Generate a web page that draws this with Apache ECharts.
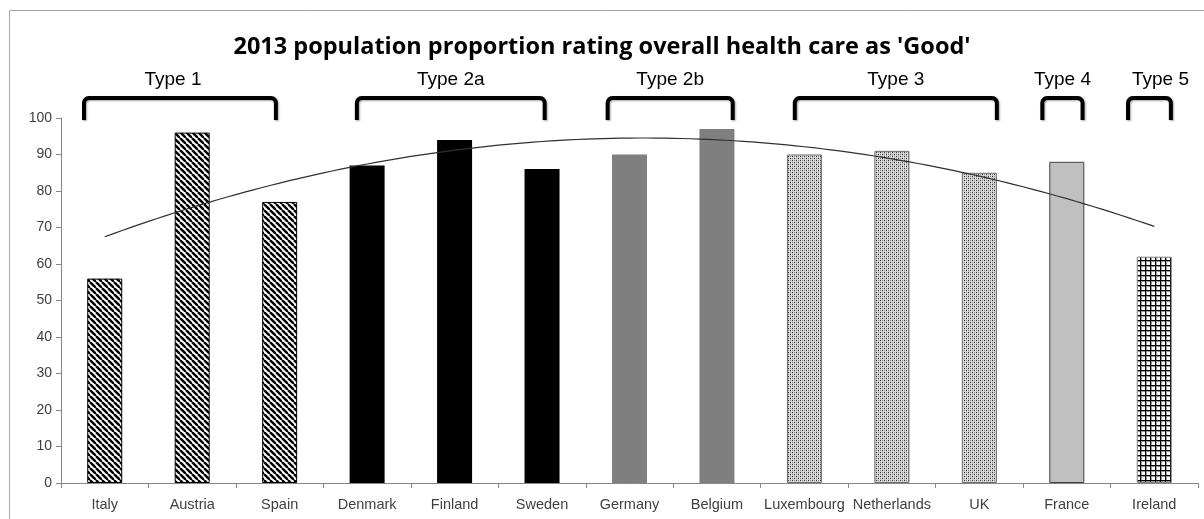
<!DOCTYPE html>
<html>
<head>
<meta charset="utf-8">
<script src="https://cdn.jsdelivr.net/npm/echarts@6/dist/echarts.min.js"></script>
<style>
html,body{margin:0;padding:0;background:#fff;}
#c{width:1204px;height:519px;}
</style>
</head>
<body>
<div id="c"></div>
<script>
// ---- data ----
const chartTitle = "2013 population proportion rating overall health care as 'Good'";
const countries = ['Italy','Austria','Spain','Denmark','Finland','Sweden','Germany','Belgium','Luxembourg','Netherlands','UK','France','Ireland'];
const values = [56, 96, 77, 87, 94, 86, 90, 97, 90, 91, 85, 88, 62];
const groupNames = ['Type 1','Type 2a','Type 2b','Type 3','Type 4','Type 5'];
const groupOfCountry = [0,0,0,1,1,1,2,2,3,3,3,4,5];
const yTicks = [0,10,20,30,40,50,60,70,80,90,100];

// ---- layout / style ----
const bracketSpan = [[-0.237,1.957],[2.883,5.03],[5.75,7.18],[7.89,10.2],[10.72,11.18],[11.70,12.19]];
const labelShift = [-7,0,0,0,0,11];

function makePattern(kind){
  const cv = document.createElement('canvas');
  let s;
  if(kind==='stripe'){
    s=6; cv.width=s; cv.height=s;
    const g=cv.getContext('2d');
    g.fillStyle='#fff'; g.fillRect(0,0,s,s);
    g.strokeStyle='#000'; g.lineWidth=2.4;
    for(const o of [-s,0,s]){ g.beginPath(); g.moveTo(o,0); g.lineTo(o+s,s); g.stroke(); }
  } else if(kind==='dots'){
    s=4; cv.width=s; cv.height=s;
    const g=cv.getContext('2d');
    g.fillStyle='#c4c4c4'; g.fillRect(0,0,s,s);
    g.fillStyle='#dedede'; g.fillRect(1,0,1,4); g.fillRect(3,0,1,4);
    g.fillStyle='#333'; g.fillRect(0,0,1,1); g.fillRect(2,2,1,1);
    g.fillStyle='#8a8a8a'; g.fillRect(0,2,1,1); g.fillRect(2,0,1,1);
  } else if(kind==='grid'){
    s=5; cv.width=s; cv.height=s;
    const g=cv.getContext('2d');
    g.fillStyle='#fff'; g.fillRect(0,0,s,s);
    g.fillStyle='#9a9a9a'; g.fillRect(1,0,1,s); g.fillRect(0,1,s,1);
    g.fillStyle='#000'; g.fillRect(0,0,1,s); g.fillRect(0,0,s,1);
  }
  return {image: cv, repeat: 'repeat'};
}
const groupStyles = [
  {color: makePattern('stripe'), borderColor:'#000', borderWidth:1},
  {color: '#000000', borderColor:'#000', borderWidth:0},
  {color: '#7f7f7f', borderColor:'#7f7f7f', borderWidth:0},
  {color: makePattern('dots'), borderColor:'#6e6e6e', borderWidth:1},
  {color: '#c0c0c0', borderColor:'#404040', borderWidth:1},
  {color: makePattern('grid'), borderColor:'#808080', borderWidth:1}
];

// quadratic least-squares trendline computed from values
function quadFit(ys){
  const n=ys.length; let S=[0,0,0,0,0], T=[0,0,0];
  for(let i=0;i<n;i++){ const x=i+1; let p=1;
    for(let k=0;k<5;k++){ S[k]+=p; if(k<3) T[k]+=p*ys[i]; p*=x; } }
  const A=[[S[0],S[1],S[2],T[0]],[S[1],S[2],S[3],T[1]],[S[2],S[3],S[4],T[2]]];
  for(let c=0;c<3;c++){ for(let r=c+1;r<3;r++){ const f=A[r][c]/A[c][c]; for(let k=c;k<4;k++) A[r][k]-=f*A[c][k]; } }
  const co=[0,0,0];
  for(let r=2;r>=0;r--){ let s=A[r][3]; for(let k=r+1;k<3;k++) s-=A[r][k]*co[k]; co[r]=s/A[r][r]; }
  return co;
}
const co = quadFit(values);
const trend = [];
for(let i=0;i<=120;i++){ const xi=i/10; const x=xi+1; trend.push([xi, co[0]+co[1]*x+co[2]*x*x]); }

const chart = echarts.init(document.getElementById('c'), null, {renderer:'canvas'});
const font = 'Liberation Sans, Arial, sans-serif';
chart.setOption({
  animation:false,
  title:{text:chartTitle, left:'center', top:30, textStyle:{fontFamily:'Open Sans, Liberation Sans, sans-serif', fontWeight:'bold', fontSize:23.5, color:'#000'}},
  grid:{left:61, right:6, top:118, bottom:36, containLabel:false},
  xAxis:[{
    type:'category', data:countries,
    axisLine:{lineStyle:{color:'#868686'}},
    axisTick:{show:true, length:5, lineStyle:{color:'#868686'}},
    axisLabel:{fontFamily:font, fontSize:14.5, color:'#404040', margin:14, interval:0},
  },{
    type:'value', min:-0.5, max:12.5, show:false
  }],
  yAxis:{
    type:'value', min:0, max:100, interval:10,
    splitLine:{show:false},
    axisLine:{show:true, onZero:false, lineStyle:{color:'#868686'}},
    axisTick:{show:true, length:5, lineStyle:{color:'#868686'}},
    axisLabel:{fontFamily:font, fontSize:14, color:'#404040', margin:9,
      formatter: v => yTicks.includes(v) ? String(v) : ''}
  },
  series:[{
    type:'bar', barWidth:35,
    data: values.map((v,i)=>({value:v, itemStyle:groupStyles[groupOfCountry[i]]}))
  },{
    type:'line', xAxisIndex:1, data:trend, showSymbol:false, symbol:'none', z:5,
    lineStyle:{color:'#303030', width:1.2}
  }]
});

function drawAnnotations(){
  const gs=[];
  gs.push({type:'rect', shape:{x:9.5,y:10.5,width:1400,height:800}, style:{fill:null, stroke:'#a6a6a6', lineWidth:1}, silent:true, z:0});
  const yTop=98, yBot=120, r=5;
  bracketSpan.forEach((sp,gi)=>{
    const x1 = chart.convertToPixel({xAxisIndex:1}, sp[0]);
    const x2 = chart.convertToPixel({xAxisIndex:1}, sp[1]);
    const pts=[[x1,yBot]];
    for(let k=0;k<=6;k++){ const a=Math.PI - k*Math.PI/12; pts.push([x1+r+r*Math.cos(a), yTop+r-r*Math.sin(a)]); }
    for(let k=0;k<=6;k++){ const a=Math.PI/2 - k*Math.PI/12; pts.push([x2-r+r*Math.cos(a), yTop+r-r*Math.sin(a)]); }
    pts.push([x2,yBot]);
    gs.push({type:'polyline', shape:{points:pts}, style:{fill:null, stroke:'#000', lineWidth:4, lineJoin:'round', shadowBlur:2, shadowColor:'rgba(0,0,0,0.35)', shadowOffsetX:1, shadowOffsetY:1}, silent:true, z:10});
    gs.push({type:'text', x:(x1+x2)/2 + labelShift[gi], y:80, style:{text:groupNames[gi], fill:'#000', font:`19px ${font}`, textAlign:'center', textVerticalAlign:'middle'}, silent:true, z:10});
  });
  chart.setOption({graphic:gs});
}
drawAnnotations();
</script>
</body>
</html>
